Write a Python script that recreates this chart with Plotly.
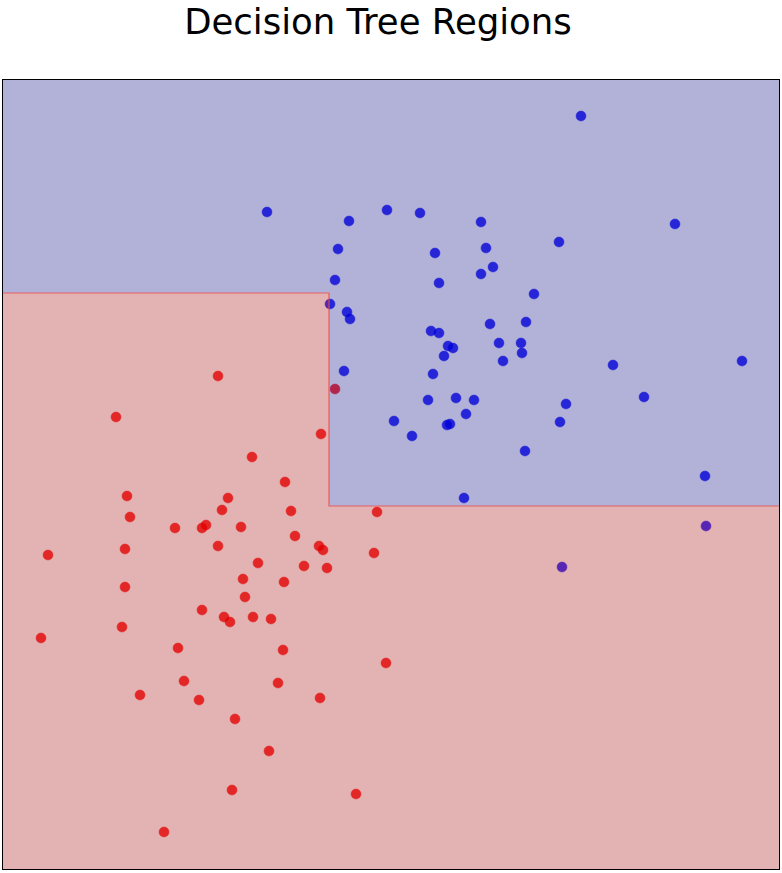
import plotly.graph_objects as go

# Class 0 (blue) samples
blue_x = [5.78, 2.64, 3.46, 3.84, 4.17, 4.78, 6.72, 3.35, 4.32, 4.83, 5.56, 4.90, 4.78, 3.32, 4.36,
          5.31, 3.27, 3.44, 3.47, 4.87, 5.23, 4.28, 4.36, 4.45, 4.50, 4.96, 5.18, 4.41, 5.19, 5.00,
          6.10, 7.39, 3.41, 4.30, 4.53, 4.71, 4.25, 6.41, 5.63, 4.63, 3.91, 5.57, 4.47, 4.44, 4.09,
          5.22, 7.02, 4.61, 7.03, 5.59]
blue_y = [7.53, 6.57, 6.48, 6.59, 6.56, 6.47, 6.45, 6.20, 6.16, 6.21, 6.27, 6.02, 5.95, 5.89, 5.86,
          5.75, 5.65, 5.57, 5.50, 5.45, 5.47, 5.38, 5.36, 5.23, 5.21, 5.26, 5.26, 5.13, 5.16, 5.08,
          5.04, 5.08, 4.98, 4.95, 4.71, 4.69, 4.69, 4.72, 4.65, 4.55, 4.48, 4.47, 4.45, 4.44, 4.33,
          4.18, 3.93, 3.71, 3.43, 3.02]

# Class 1 (red) samples
red_x = [2.15, 1.13, 3.32, 3.18, 2.49, 2.82, 1.24, 2.25, 2.19, 2.88, 1.27, 3.74, 1.72, 2.03, 1.99,
         2.38, 2.92, 0.45, 1.22, 2.15, 3.16, 3.20, 3.71, 2.55, 3.01, 3.24, 2.40, 2.81, 1.22, 2.42,
         1.99, 2.21, 2.27, 2.50, 2.68, 1.19, 0.38, 1.75, 2.80, 3.83, 1.81, 2.75, 1.37, 1.96, 3.17,
         2.32, 2.66, 2.29, 3.53, 1.61]
red_y = [4.93, 4.52, 4.80, 4.35, 4.12, 3.87, 3.73, 3.71, 3.59, 3.58, 3.52, 3.57, 3.41, 3.44, 3.41,
         3.42, 3.33, 3.14, 3.20, 3.23, 3.23, 3.19, 3.16, 3.06, 3.03, 3.01, 2.90, 2.87, 2.82, 2.72,
         2.59, 2.52, 2.47, 2.52, 2.50, 2.42, 2.31, 2.21, 2.19, 2.06, 1.88, 1.86, 1.74, 1.69, 1.71,
         1.50, 1.18, 0.79, 0.75, 0.37]

# Axis extents and tree split thresholds
x_min, x_max = 0.0, 7.76
y_min, y_max = 0.0, 7.89
split_x = 3.26
split_y_left = 5.76
split_y_right = 3.63

blue_overlay = "rgba(0,0,125,0.3)"
red_overlay = "rgba(162,0,0,0.3)"

fig = go.Figure()

# Samples (drawn first, regions are laid translucently over them)
fig.add_trace(go.Scatter(
    x=blue_x, y=blue_y, mode="markers",
    marker=dict(size=10, color="blue", opacity=0.78, line=dict(color="blue", width=0.5)),
    showlegend=False))
fig.add_trace(go.Scatter(
    x=red_x, y=red_y, mode="markers",
    marker=dict(size=10, color="red", opacity=0.78, line=dict(color="red", width=0.5)),
    showlegend=False))

# Red (class 1) region
fig.add_trace(go.Scatter(
    x=[x_min, x_max, x_max, split_x, split_x, x_min, x_min],
    y=[y_min, y_min, split_y_right, split_y_right, split_y_left, split_y_left, y_min],
    fill="toself", fillcolor=red_overlay, mode="none",
    hoverinfo="skip", showlegend=False))
# Blue (class 0) region
fig.add_trace(go.Scatter(
    x=[x_min, split_x, split_x, x_max, x_max, x_min, x_min],
    y=[split_y_left, split_y_left, split_y_right, split_y_right, y_max, y_max, split_y_left],
    fill="toself", fillcolor=blue_overlay, mode="none",
    hoverinfo="skip", showlegend=False))
# Decision boundary
fig.add_trace(go.Scatter(
    x=[x_min, split_x, split_x, x_max],
    y=[split_y_left, split_y_left, split_y_right, split_y_right],
    mode="lines", line=dict(color="rgba(232,80,80,0.85)", width=1.2),
    hoverinfo="skip", showlegend=False))

axis_common = dict(showgrid=False, zeroline=False, showticklabels=False, ticks="",
                   showline=True, mirror=True, linecolor="black", linewidth=1)

fig.update_layout(
    width=782, height=873,
    margin=dict(l=3, r=3, t=80, b=4),
    paper_bgcolor="white",
    plot_bgcolor="white",
    title=dict(text="Decision Tree Regions", xref="container", yref="container",
               x=378/782, xanchor="center", y=1 - 22/873, yanchor="middle",
               font=dict(family="DejaVu Sans", size=35.5, color="black")),
    xaxis=dict(range=[x_min, x_max], **axis_common),
    yaxis=dict(range=[y_min, y_max], **axis_common),
)

fig.write_html("out.html")
